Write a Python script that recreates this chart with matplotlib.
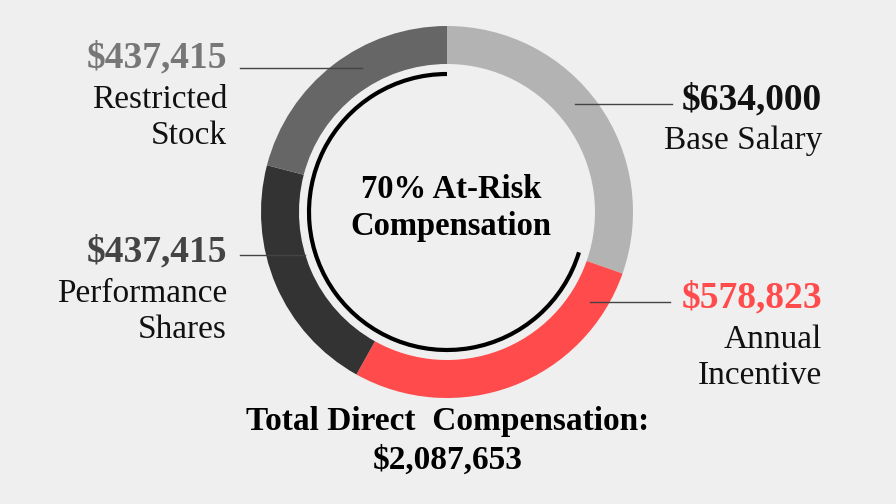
import matplotlib
matplotlib.use('Agg')
import matplotlib.pyplot as plt
from matplotlib.patches import Arc

plt.rcParams['font.family'] = ['Liberation Serif', 'DejaVu Serif']

labels = ['Base Salary', 'Annual\nIncentive', 'Performance\nShares', 'Restricted\nStock']
amounts = [634000, 578823, 437415, 437415]
amount_labels = ['$634,000', '$578,823', '$437,415', '$437,415']
colors = ['#b3b3b3', '#ff4b4b', '#333333', '#666666']
amount_colors = ['#111111', '#ff4b4b', '#444444', '#777777']
BG = '#efefef'
H = 504

fig = plt.figure(figsize=(8.96, 5.04), dpi=100, facecolor=BG)
ax = fig.add_axes([0, 0, 1, 1])

cx, cy = 447, H - 212
ax.pie(amounts, colors=colors, startangle=90, counterclock=False,
       center=(cx, cy), radius=186, wedgeprops=dict(width=38, linewidth=0),
       frame=True)
ax.set_xlim(0, 896)
ax.set_ylim(0, H)
ax.set_aspect('equal')
ax.axis('off')

# at-risk arc
ax.add_patch(Arc((cx, cy), 276, 276, theta1=90, theta2=343, color='black', lw=3))

ax.text(451, H - 208, '70% At-Risk\nCompensation', ha='center', va='center',
        fontsize=23.5, fontweight='bold', linespacing=1.25)

# leader lines and labels
lines = [((575, 104), (672, 104)), ((590, 302), (670, 302)),
         ((240, 255), (305, 255)), ((240, 68), (362, 68))]
for (x0, y0), (x1, y1) in lines:
    ax.plot([x0, x1], [H - y0, H - y1], color='#444444', lw=1)

pos = [(822, 100), (822, 298), (227, 252), (227, 58)]
for (x, y), amt, lab, c in zip(pos, amount_labels, labels, amount_colors):
    ax.text(x, H - y, amt, ha='right', va='center', fontsize=27, fontweight='bold', color=c)
    ax.text(x, H - y - 26, lab, ha='right', va='top', fontsize=24, color='#111111',
            linespacing=1.25)

ax.text(448, H - 441, 'Total Direct  Compensation:\n$2,087,653', ha='center',
        va='center', fontsize=24, fontweight='bold', linespacing=1.3)

fig.savefig('out.png', dpi=100, facecolor=BG)
